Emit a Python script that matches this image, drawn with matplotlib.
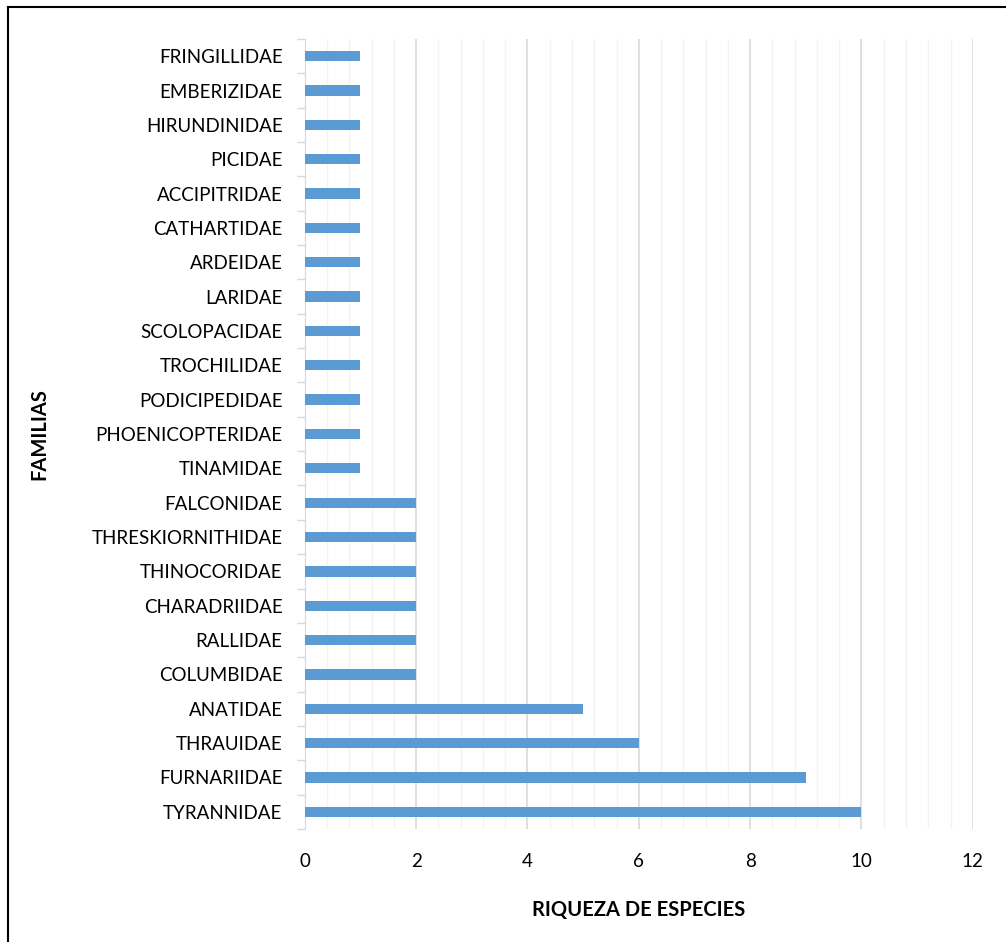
import matplotlib
matplotlib.use('Agg')
import matplotlib.pyplot as plt
from matplotlib.lines import Line2D
from matplotlib.ticker import MultipleLocator

# familias from bottom to top
familias = ["TYRANNIDAE", "FURNARIIDAE", "THRAUIDAE", "ANATIDAE", "COLUMBIDAE",
            "RALLIDAE", "CHARADRIIDAE", "THINOCORIDAE", "THRESKIORNITHIDAE",
            "FALCONIDAE", "TINAMIDAE", "PHOENICOPTERIDAE", "PODICIPEDIDAE",
            "TROCHILIDAE", "SCOLOPACIDAE", "LARIDAE", "ARDEIDAE", "CATHARTIDAE",
            "ACCIPITRIDAE", "PICIDAE", "HIRUNDINIDAE", "EMBERIZIDAE", "FRINGILLIDAE"]
riqueza = [10, 9, 6, 5, 2, 2, 2, 2, 2, 2, 1, 1, 1, 1, 1, 1, 1, 1, 1, 1, 1, 1, 1]

plt.rcParams['font.family'] = ['Lato', 'DejaVu Sans']

fig = plt.figure(figsize=(10.06, 9.42), dpi=100)
ax = fig.add_axes([0.303, 0.12, 0.664, 0.8386])

y = range(len(familias))
ax.barh(y, riqueza, height=0.3, color='#5b9bd5', zorder=3)

ax.set_xlim(0, 12)
ax.set_ylim(-0.5, len(familias) - 0.5)
ax.xaxis.set_major_locator(MultipleLocator(2))
ax.xaxis.set_minor_locator(MultipleLocator(0.4))
ax.grid(True, which='major', axis='x', color='#d9d9d9', linewidth=1.2, zorder=0)
ax.grid(True, which='minor', axis='x', color='#f2f2f2', linewidth=1.0, zorder=0)

ax.set_yticks(list(y))
ax.set_yticklabels(familias, fontsize=13.5)
ax.set_yticks([i - 0.5 for i in range(len(familias) + 1)], minor=True)
ax.tick_params(axis='y', which='major', length=0, pad=16)
ax.tick_params(axis='y', which='minor', length=6, color='#d9d9d9', width=1)
ax.tick_params(axis='x', which='both', length=0, labelsize=13.5, pad=17)

for s in ['top', 'right', 'bottom']:
    ax.spines[s].set_visible(False)
ax.spines['left'].set_color('#d9d9d9')

ax.set_xlabel('RIQUEZA DE ESPECIES', fontsize=14.5, fontweight='bold', labelpad=22)
ax.set_ylabel('FAMILIAS', fontsize=14.5, fontweight='bold', labelpad=30)

# border of the figure (top and left only, image cropped)
fig.add_artist(Line2D([0.0075, 0.0075], [0, 0.9925], color='black', lw=1.5,
                      transform=fig.transFigure))
fig.add_artist(Line2D([0.0075, 1.0], [0.9925, 0.9925], color='black', lw=1.5,
                      transform=fig.transFigure))

fig.savefig('out.png', dpi=100)
